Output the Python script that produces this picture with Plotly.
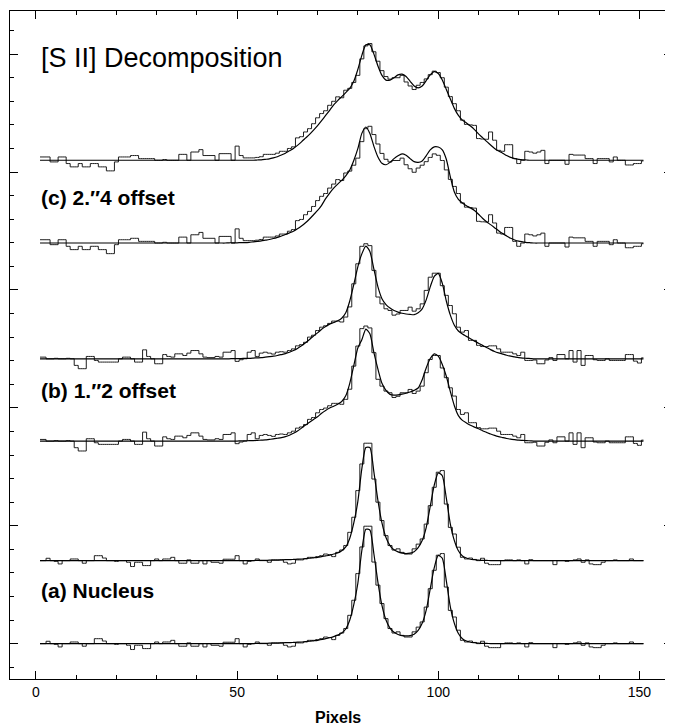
import plotly.graph_objects as go

# pixel positions (bin centres)
pixels = list(range(1, 152))

# vertical offsets of the six stacked spectra (minor-tick units)
offsets = [0.0, 3.52, 8.59, 12.08, 16.99, 20.5]

labels = ["[S II] Decomposition", "(c) 2.\u20334 offset", "(b) 1.\u20332 offset", "(a) Nucleus"]
x_tick_labels = ["0", "50", "100", "150"]

# observed [S II] profiles (relative to baseline)
hist_a = [
    0.0, 0.0, 0.1, 0.0, -0.03, -0.14, 0.0, 0.0, 0.07, 0.07,
    0.0, -0.11, 0.0, 0.0, 0.21, 0.21, 0.11, 0.0, 0.0, -0.03,
    0.0, 0.0, -0.07, -0.25, -0.07, -0.07, -0.21, -0.21, 0.0, 0.07,
    0.0, 0.07, 0.07, 0.14, 0.0, -0.11, -0.11, 0.03, -0.11, -0.11,
    0.0, -0.14, 0.0, -0.07, -0.07, -0.11, 0.06, 0.06, 0.06, 0.21,
    0.0, -0.14, -0.03, 0.0, 0.07, 0.0, 0.0, -0.07, 0.03, 0.03,
    0.03, -0.07, -0.14, -0.11, 0.03, 0.03, 0.07, 0.14, 0.14, 0.17,
    0.21, 0.28, 0.26, 0.17, 0.35, 0.45, 0.64, 1.2, 1.84, 2.97,
    4.1, 4.98, 4.98, 3.46, 2.48, 1.7, 1.06, 0.64, 0.45, 0.5,
    0.35, 0.28, 0.28, 0.5, 0.7, 0.92, 1.55, 2.33, 3.11, 3.75,
    3.82, 2.4, 1.41, 1.13, 0.57, 0.14, 0.07, 0.11, 0.05, 0.0,
    0.1, -0.11, -0.17, -0.17, -0.17, 0.0, 0.03, 0.03, 0.0, 0.03,
    0.0, -0.14, 0.04, 0.0, 0.0, 0.0, 0.0, 0.0, -0.17, 0.0,
    0.0, -0.03, 0.0, 0.03, 0.07, -0.07, 0.03, -0.14, -0.17, -0.17,
    -0.07, 0.0, 0.0, 0.03, 0.0, 0.0, 0.0, 0.07, 0.0, 0.0,
    0.0,
]
hist_b = [
    0.07, 0.07, 0.0, 0.0, 0.02, 0.0, 0.0, 0.02, 0.0, -0.28,
    -0.42, -0.42, 0.1, 0.1, -0.07, -0.14, -0.14, -0.14, -0.14, -0.14,
    0.0, 0.07, 0.07, 0.0, -0.14, -0.14, 0.38, 0.1, 0.0, -0.21,
    -0.21, 0.18, 0.1, 0.07, 0.21, 0.21, 0.14, 0.24, 0.35, 0.35,
    0.21, 0.07, 0.05, 0.05, 0.1, 0.07, 0.28, 0.28, 0.35, -0.11,
    -0.04, 0.0, 0.28, 0.35, 0.1, 0.24, 0.28, 0.24, 0.2, 0.28,
    0.3, 0.28, 0.35, 0.42, 0.55, 0.6, 0.7, 0.92, 1.0, 1.2,
    1.34, 1.4, 1.5, 1.6, 1.6, 1.56, 1.77, 2.2, 3.18, 4.03,
    4.77, 4.88, 4.8, 3.75, 2.62, 2.33, 2.12, 2.05, 1.85, 1.9,
    2.05, 2.05, 2.19, 2.02, 2.12, 2.33, 2.9, 3.46, 3.63, 3.63,
    3.1, 2.69, 2.26, 1.91, 1.34, 1.13, 1.2, 0.78, 0.78, 0.57,
    0.52, 0.52, 0.55, 0.55, 0.42, 0.28, 0.28, 0.28, 0.21, 0.14,
    0.28, -0.07, -0.07, -0.05, -0.21, -0.21, -0.05, 0.05, -0.07, 0.18,
    0.18, 0.0, 0.35, -0.14, 0.35, -0.28, 0.14, 0.14, -0.04, -0.07,
    -0.07, 0.0, -0.07, -0.07, -0.07, -0.07, 0.18, 0.18, -0.1, -0.18,
    0.04,
]
hist_c = [
    0.14, 0.14, 0.14, -0.07, -0.07, 0.14, 0.14, -0.14, -0.28, -0.28,
    -0.14, -0.28, -0.28, -0.14, -0.14, -0.28, -0.28, -0.45, -0.45, -0.07,
    0.14, 0.14, 0.14, 0.2, 0.2, 0.07, 0.07, 0.07, 0.07, 0.0,
    0.0, 0.03, 0.0, 0.0, 0.0, 0.25, 0.25, 0.0, 0.35, 0.35,
    0.45, 0.2, 0.2, 0.2, 0.0, 0.28, 0.28, 0.28, 0.0, 0.6,
    0.2, 0.1, 0.1, 0.1, 0.12, 0.15, 0.25, 0.25, 0.25, 0.3,
    0.38, 0.38, 0.5, 0.57, 0.95, 1.0, 1.2, 1.34, 1.55, 1.8,
    1.98, 2.1, 2.33, 2.5, 2.69, 2.65, 2.97, 3.05, 3.3, 3.6,
    4.3, 4.85, 4.95, 4.6, 4.2, 3.8, 3.55, 3.44, 3.5, 3.5,
    3.6, 3.32, 3.15, 3.0, 3.18, 3.3, 3.45, 3.63, 3.78, 3.72,
    3.5, 3.1, 2.7, 2.4, 2.1, 1.7, 1.52, 1.5, 1.48, 0.92,
    0.9, 0.89, 1.2, 0.85, 0.42, 0.38, 0.66, 0.66, 0.07, -0.14,
    0.0, 0.38, 0.35, 0.3, 0.35, 0.42, -0.14, 0.0, 0.0, 0.0,
    0.0, -0.17, 0.25, 0.22, 0.22, 0.22, 0.07, 0.07, -0.14, 0.07,
    0.07, 0.07, -0.07, 0.14, 0.0, 0.0, -0.2, -0.2, -0.14, -0.14,
    -0.03,
]

# model fits (relative to baseline)
fit_a_lo = [
    0, 0, 0, 0, 0, 0, 0, 0, 0, 0,
    0, 0, 0, 0, 0, 0, 0, 0, 0, 0,
    0, 0, 0, 0, 0, 0, 0, 0, 0, 0,
    0, 0, 0, 0, 0, 0, 0, 0, 0, 0,
    0, 0, 0, 0, 0, 0, 0, 0, 0, 0,
    0.0, 0.0, 0.0, 0.0, 0.01, 0.01, 0.01, 0.02, 0.02, 0.02,
    0.03, 0.04, 0.04, 0.05, 0.06, 0.07, 0.09, 0.1, 0.12, 0.14,
    0.18, 0.21, 0.25, 0.3, 0.36, 0.45, 0.62, 1.0, 1.65, 2.55,
    3.95, 4.85, 4.82, 3.8, 2.6, 1.62, 1.0, 0.66, 0.48, 0.39,
    0.34, 0.33, 0.34, 0.4, 0.56, 0.86, 1.42, 2.32, 3.22, 3.74,
    3.62, 2.66, 1.56, 0.86, 0.43, 0.21, 0.11, 0.06, 0.04, 0.02,
    0.01, 0.01, 0, 0, 0, 0, 0, 0, 0, 0,
    0, 0, 0, 0, 0, 0, 0, 0, 0, 0,
    0, 0, 0, 0, 0, 0, 0, 0, 0, 0,
    0, 0, 0, 0, 0, 0, 0, 0, 0, 0,
    0,
]
fit_a_up = [
    0, 0, 0, 0, 0, 0, 0, 0, 0, 0,
    0, 0, 0, 0, 0, 0, 0, 0, 0, 0,
    0, 0, 0, 0, 0, 0, 0, 0, 0, 0,
    0, 0, 0, 0, 0, 0, 0, 0, 0, 0,
    0, 0, 0, 0, 0, 0, 0, 0, 0, 0,
    0.0, 0.0, 0.0, 0.0, 0.01, 0.01, 0.01, 0.02, 0.02, 0.02,
    0.03, 0.04, 0.04, 0.05, 0.06, 0.07, 0.09, 0.1, 0.12, 0.14,
    0.17, 0.2, 0.23, 0.28, 0.33, 0.42, 0.58, 0.95, 1.6, 2.5,
    3.9, 4.8, 4.8, 3.75, 2.55, 1.6, 0.98, 0.64, 0.46, 0.37,
    0.32, 0.3, 0.32, 0.38, 0.55, 0.85, 1.4, 2.3, 3.2, 3.72,
    3.6, 2.65, 1.55, 0.85, 0.42, 0.2, 0.11, 0.06, 0.04, 0.02,
    0.01, 0.01, 0, 0, 0, 0, 0, 0, 0, 0,
    0, 0, 0, 0, 0, 0, 0, 0, 0, 0,
    0, 0, 0, 0, 0, 0, 0, 0, 0, 0,
    0, 0, 0, 0, 0, 0, 0, 0, 0, 0,
    0,
]
fit_b_lo = [
    0, 0, 0, 0, 0, 0, 0, 0, 0, 0,
    0, 0, 0, 0, 0, 0, 0, 0, 0, 0,
    0, 0, 0, 0, 0, 0, 0, 0, 0, 0,
    0, 0, 0, 0, 0, 0, 0, 0, 0, 0,
    0, 0, 0, 0, 0, 0, 0, 0, 0, 0,
    0.01, 0.01, 0.02, 0.02, 0.03, 0.04, 0.05, 0.07, 0.09, 0.12,
    0.15, 0.19, 0.25, 0.33, 0.43, 0.55, 0.68, 0.8, 0.92, 1.03,
    1.18, 1.3, 1.4, 1.48, 1.56, 1.68, 1.92, 2.45, 3.2, 3.95,
    4.3, 4.75, 4.55, 3.75, 3.05, 2.45, 2.15, 1.98, 1.95, 1.96,
    1.99, 2.03, 2.08, 2.15, 2.25, 2.6, 3.1, 3.5, 3.7, 3.6,
    3.25, 2.75, 2.1, 1.5, 1.08, 0.88, 0.77, 0.67, 0.59, 0.52,
    0.44, 0.37, 0.3, 0.24, 0.19, 0.15, 0.11, 0.08, 0.06, 0.04,
    0.03, 0.02, 0.01, 0, 0, 0, 0, 0, 0, 0,
    0, 0, 0, 0, 0, 0, 0, 0, 0, 0,
    0, 0, 0, 0, 0, 0, 0, 0, 0, 0,
    0,
]
fit_b_up = [
    0, 0, 0, 0, 0, 0, 0, 0, 0, 0,
    0, 0, 0, 0, 0, 0, 0, 0, 0, 0,
    0, 0, 0, 0, 0, 0, 0, 0, 0, 0,
    0, 0, 0, 0, 0, 0, 0, 0, 0, 0,
    0, 0, 0, 0, 0, 0, 0, 0, 0.01, 0.01,
    0.01, 0.02, 0.02, 0.03, 0.04, 0.05, 0.07, 0.09, 0.11, 0.14,
    0.18, 0.22, 0.28, 0.35, 0.44, 0.55, 0.68, 0.82, 0.97, 1.1,
    1.25, 1.37, 1.47, 1.54, 1.61, 1.72, 1.95, 2.45, 3.15, 3.9,
    4.45, 4.78, 4.55, 3.8, 3.05, 2.55, 2.3, 2.15, 2.05, 1.98,
    1.93, 1.9, 1.88, 1.87, 1.95, 2.12, 2.5, 3.05, 3.5, 3.62,
    3.2, 2.45, 1.85, 1.42, 1.18, 1.05, 0.95, 0.85, 0.75, 0.66,
    0.57, 0.48, 0.39, 0.31, 0.25, 0.2, 0.15, 0.11, 0.08, 0.05,
    0.03, 0.02, 0.01, 0, 0, 0, 0, 0, 0, 0,
    0, 0, 0, 0, 0, 0, 0, 0, 0, 0,
    0, 0, 0, 0, 0, 0, 0, 0, 0, 0,
    0,
]
fit_c_lo = [
    0, 0, 0, 0, 0, 0, 0, 0, 0, 0,
    0, 0, 0, 0, 0, 0, 0, 0, 0, 0,
    0, 0, 0, 0, 0, 0, 0, 0, 0, 0,
    0, 0, 0, 0, 0, 0, 0, 0, 0, 0,
    0, 0, 0, 0, 0, 0, 0, 0.01, 0.01, 0.01,
    0.02, 0.02, 0.03, 0.05, 0.07, 0.09, 0.12, 0.15, 0.19, 0.24,
    0.3, 0.36, 0.43, 0.5, 0.6, 0.72, 0.86, 1.02, 1.2, 1.38,
    1.6, 1.88, 2.12, 2.33, 2.5, 2.66, 2.85, 3.1, 3.5, 4.0,
    4.65, 4.92, 4.65, 4.1, 3.65, 3.38, 3.32, 3.42, 3.58, 3.7,
    3.78, 3.72, 3.58, 3.45, 3.42, 3.48, 3.7, 3.95, 4.08, 4.07,
    3.95, 3.55, 2.8, 2.16, 1.85, 1.7, 1.58, 1.49, 1.38, 1.22,
    1.05, 0.9, 0.78, 0.65, 0.52, 0.4, 0.3, 0.2, 0.13, 0.08,
    0.05, 0.02, 0.01, 0, 0, 0, 0, 0, 0, 0,
    0, 0, 0, 0, 0, 0, 0, 0, 0, 0,
    0, 0, 0, 0, 0, 0, 0, 0, 0, 0,
    0,
]
fit_c_up = [
    0, 0, 0, 0, 0, 0, 0, 0, 0, 0,
    0, 0, 0, 0, 0, 0, 0, 0, 0, 0,
    0, 0, 0, 0, 0, 0, 0, 0, 0, 0,
    0, 0, 0, 0, 0, 0, 0, 0, 0, 0,
    0, 0, 0, 0, 0, 0, 0, 0, 0, 0,
    0, 0, 0, 0, 0.01, 0.02, 0.04, 0.06, 0.1, 0.15,
    0.22, 0.3, 0.4, 0.5, 0.63, 0.78, 0.94, 1.1, 1.28, 1.47,
    1.68, 1.9, 2.12, 2.35, 2.53, 2.7, 2.87, 3.05, 3.35, 3.85,
    4.45, 4.9, 4.9, 4.5, 4.0, 3.6, 3.4, 3.4, 3.5, 3.62,
    3.65, 3.55, 3.35, 3.15, 3.07, 3.15, 3.38, 3.62, 3.76, 3.68,
    3.4, 3.0, 2.6, 2.2, 1.9, 1.7, 1.58, 1.45, 1.3, 1.12,
    0.96, 0.8, 0.65, 0.5, 0.39, 0.3, 0.2, 0.12, 0.07, 0.04,
    0.02, 0.01, 0, 0, 0, 0, 0, 0, 0, 0,
    0, 0, 0, 0, 0, 0, 0, 0, 0, 0,
    0, 0, 0, 0, 0, 0, 0, 0, 0, 0,
    0,
]

for arr in (hist_a, hist_b, hist_c, fit_a_lo, fit_a_up, fit_b_lo, fit_b_up, fit_c_lo, fit_c_up):
    assert len(arr) == len(pixels), len(arr)

spectra = [
    (hist_a, fit_a_lo, offsets[0]),
    (hist_a, fit_a_up, offsets[1]),
    (hist_b, fit_b_lo, offsets[2]),
    (hist_b, fit_b_up, offsets[3]),
    (hist_c, fit_c_lo, offsets[4]),
    (hist_c, fit_c_up, offsets[5]),
]

fig = go.Figure()
for hist, fit, off in spectra:
    fig.add_trace(go.Scatter(
        x=pixels, y=[v + off for v in hist], mode="lines",
        line=dict(color="#1e1e1e", width=1, shape="hvh"), showlegend=False, hoverinfo="skip"))
    fig.add_trace(go.Scatter(
        x=pixels, y=[v + off for v in fit], mode="lines",
        line=dict(color="#000000", width=1.2, shape="spline", smoothing=0.6), showlegend=False, hoverinfo="skip"))

font_fam = "Liberation Sans, Arial, Helvetica, sans-serif"

fig.add_annotation(x=0.8, y=24.85, xref="x", yref="y", text=labels[0], showarrow=False,
                   xanchor="left", yanchor="middle", font=dict(family=font_fam, size=27, color="black"))
fig.add_annotation(x=0.8, y=18.9, xref="x", yref="y", text="<b>" + labels[1] + "</b>", showarrow=False,
                   xanchor="left", yanchor="middle", font=dict(family=font_fam, size=21, color="black"))
fig.add_annotation(x=0.8, y=10.75, xref="x", yref="y", text="<b>" + labels[2] + "</b>", showarrow=False,
                   xanchor="left", yanchor="middle", font=dict(family=font_fam, size=21, color="black"))
fig.add_annotation(x=0.8, y=2.25, xref="x", yref="y", text="<b>" + labels[3] + "</b>", showarrow=False,
                   xanchor="left", yanchor="middle", font=dict(family=font_fam, size=21, color="black"))
fig.add_annotation(x=75, y=-0.058, xref="x", yref="paper", text="<b>Pixels</b>", showarrow=False,
                   xanchor="center", yanchor="middle", font=dict(family=font_fam, size=16, color="black"))

# the page body adds an 8 px margin, so the figure is sized to fit inside the window
fig.update_layout(
    width=665, height=718,
    margin=dict(l=2, r=1, t=3, b=47),
    paper_bgcolor="white", plot_bgcolor="white",
    showlegend=False,
    xaxis=dict(
        range=[-6.46, 158.1], tickmode="array", tickvals=[0, 50, 100, 150], ticktext=x_tick_labels,
        ticks="inside", ticklen=8, tickwidth=1, tickcolor="black",
        minor=dict(tickmode="linear", tick0=0, dtick=10, ticks="inside", ticklen=4, tickwidth=1, tickcolor="black"),
        showline=True, linecolor="black", linewidth=1, mirror="ticks",
        showgrid=False, zeroline=False,
        tickfont=dict(family=font_fam, size=14, color="black"),
    ),
    yaxis=dict(
        range=[-1.5, 26.83], tickmode="linear", tick0=0, dtick=5, showticklabels=False,
        ticks="inside", ticklen=8, tickwidth=1, tickcolor="black",
        minor=dict(tickmode="linear", tick0=0, dtick=1, ticks="inside", ticklen=4, tickwidth=1, tickcolor="black"),
        showline=True, linecolor="black", linewidth=1, mirror="ticks",
        showgrid=False, zeroline=False,
    ),
)

fig.write_html("out.html")
